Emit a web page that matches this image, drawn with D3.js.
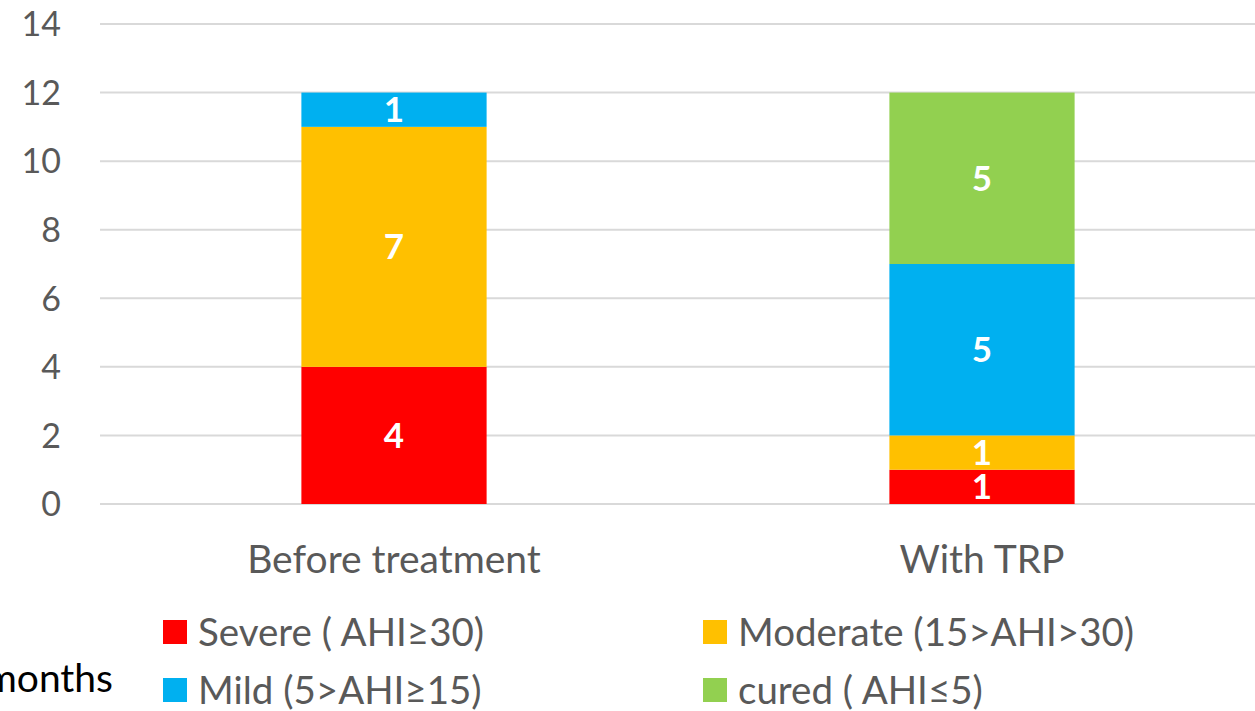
<!DOCTYPE html>
<html>
<head>
<meta charset="utf-8">
<script src="https://cdn.jsdelivr.net/npm/d3@7"></script>
<style>
  body { margin: 0; background: #fff; }
  svg text { font-family: Lato, "Open Sans", sans-serif; }
</style>
</head>
<body>
<svg id="chart" width="1255" height="711"></svg>
<script>
// categories + series (stacked bottom -> top)
const categories = ["Before treatment", "With TRP"];
const seriesNames = ["Severe ( AHI≥30)", "Moderate (15>AHI>30)", "Mild (5>AHI≥15)", "cured ( AHI≤5)"];
const severe   = [4, 1];
const moderate = [7, 1];
const mild     = [1, 5];
const cured    = [0, 5];
const yTicks = [0, 2, 4, 6, 8, 10, 12, 14];
const colors = ["#ff0000", "#ffc000", "#00b0f0", "#92d050"];

const width = 1255, height = 711;
const svg = d3.select("#chart");

// plot area runs a bit past the right edge (cut off in the original)
const x = d3.scaleBand().domain(categories).range([100, 1276]).paddingInner(0.685).paddingOuter(0.3425);
const y = d3.scaleLinear().domain([0, 14]).range([504, 24]);

// gridlines
svg.append("g")
  .selectAll("line")
  .data(yTicks)
  .enter()
  .append("line")
  .attr("x1", 100).attr("x2", 1255)
  .attr("y1", d => y(d)).attr("y2", d => y(d))
  .attr("stroke", "#d9d9d9").attr("stroke-width", 2);

// y labels
svg.append("g")
  .selectAll("text")
  .data(yTicks)
  .enter()
  .append("text")
  .attr("x", 61).attr("y", d => y(d))
  .attr("dy", "0.36em")
  .attr("text-anchor", "end")
  .attr("font-size", 34)
  .attr("fill", "#595959")
  .text(d => d);

// stack
const rows = categories.map((c, i) => ({cat: c, s0: severe[i], s1: moderate[i], s2: mild[i], s3: cured[i]}));
const stack = d3.stack().keys(["s0", "s1", "s2", "s3"]);
const layers = stack(rows);

const barG = svg.append("g");
layers.forEach((layer, li) => {
  const g = barG.append("g");
  g.selectAll("rect")
    .data(layer.filter(d => d[1] > d[0]))
    .enter()
    .append("rect")
    .attr("x", d => x(d.data.cat))
    .attr("width", x.bandwidth())
    .attr("y", d => y(d[1]))
    .attr("height", d => y(d[0]) - y(d[1]))
    .attr("fill", colors[li]);
  g.selectAll("text")
    .data(layer.filter(d => d[1] > d[0]))
    .enter()
    .append("text")
    .attr("x", d => x(d.data.cat) + x.bandwidth() / 2)
    .attr("y", d => (y(d[0]) + y(d[1])) / 2)
    .attr("dy", "0.36em")
    .attr("text-anchor", "middle")
    .attr("font-size", 35)
    .attr("font-weight", "bold")
    .attr("fill", "#fff")
    .text(d => d[1] - d[0]);
});

// category labels
svg.append("g")
  .selectAll("text")
  .data(categories)
  .enter()
  .append("text")
  .attr("x", d => x(d) + x.bandwidth() / 2)
  .attr("y", 573)
  .attr("text-anchor", "middle")
  .attr("font-size", 39)
  .attr("fill", "#595959")
  .text(d => d);

// legend
const legendPos = [[163, 632], [703, 632], [163, 690], [703, 690]];
const order = [0, 1, 2, 3];
const lg = svg.append("g");
order.forEach((k, i) => {
  const p = legendPos[i];
  lg.append("rect")
    .attr("x", p[0]).attr("y", p[1] - 12)
    .attr("width", 24).attr("height", 24)
    .attr("fill", colors[k]);
  lg.append("text")
    .attr("x", p[0] + 35).attr("y", p[1])
    .attr("dy", "0.36em")
    .attr("font-size", 38.5)
    .attr("fill", "#595959")
    .text(seriesNames[k]);
});

// leftover text from the slide, cut off at the edge
svg.append("text")
  .attr("x", 113).attr("y", 692)
  .attr("text-anchor", "end")
  .attr("font-size", 39)
  .attr("fill", "#000")
  .text("months");
</script>
</body>
</html>
